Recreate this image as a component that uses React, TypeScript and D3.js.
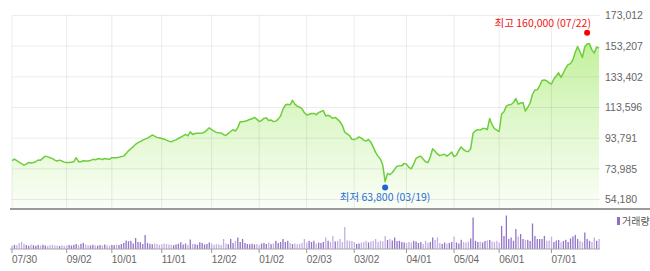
import React from "react";
import * as d3 from "d3";

const tickLabels = ["07/30", "09/02", "10/01", "11/01", "12/02", "01/02", "02/03", "03/02", "04/01", "05/04", "06/01", "07/01"];
const tickIndex = [0, 23, 42, 63, 84, 104, 124, 144, 166, 186, 205, 227];
const yTicks = [54180, 73985, 93791, 113596, 133402, 153207, 173012];

const closes = [
  79300, 80300, 79300, 78300, 77300, 76400, 77000, 78100, 77800, 78100,
  78600, 79700, 79600, 80900, 82200, 81700, 81200, 80600, 79600, 79000,
  79600, 79000, 78300, 78100, 78100, 78300, 78500, 81200, 78600, 78600,
  79200, 79100, 79000, 79300, 80100, 79900, 80300, 80600, 79900, 80700,
  80400, 80100, 81200, 81200, 81100, 81400, 81900, 82200, 83800, 85600,
  87000, 88200, 89800, 90900, 91600, 92500, 93200, 93800, 94800, 95800,
  95100, 94300, 94000, 93600, 93200, 92500, 91900, 91400, 92200, 92700,
  93600, 94400, 95300, 96200, 95300, 97900, 96200, 96800, 96900, 96900,
  97100, 97700, 99000, 100500, 99300, 98400, 97500, 97300, 97200, 96100,
  95500, 96900, 98100, 99300, 98400, 100600, 104400, 104400, 104700, 105200,
  105800, 106300, 107200, 106100, 104500, 105200, 106600, 106900, 105200, 105500,
  104500, 104800, 106100, 108100, 112400, 115200, 115700, 115300, 118200, 115800,
  114500, 113900, 112900, 110300, 108700, 109200, 109700, 109800, 109000, 110300,
  111000, 111600, 108100, 108600, 107800, 106600, 107200, 105900, 104500, 101900,
  97700, 96600, 95500, 93100, 93000, 93500, 94600, 93800, 92500, 91900,
  93000, 91200, 88000, 84600, 82200, 80400, 76400, 65700, 71000, 70200,
  71600, 73600, 75700, 75900, 75900, 77500, 77000, 74900, 74000, 77000,
  80700, 81600, 82200, 80300, 78600, 78000, 81600, 87000, 85400, 83600,
  82500, 83000, 83400, 82200, 83400, 84800, 81900, 82800, 85800, 88100,
  86400, 85400, 85100, 87000, 96900, 98600, 99300, 99000, 100000, 100000,
  99300, 106500, 102600, 100000, 99000, 98100, 109400, 110900, 114500, 115300,
  115500, 116800, 119400, 115800, 116500, 116800, 111300, 113600, 116500, 122000,
  124900, 125000, 127500, 131000, 131400, 130900, 129400, 128800, 132000, 133950,
  136000, 133000, 135900, 139100, 141300, 141900, 144300, 149200, 153000, 149600,
  145900, 152700, 154700, 154700, 150800, 148800, 152700, 151900,
];

const volumes = [
  350, 420, 380, 600, 700, 520, 400, 330, 450, 380,
  320, 410, 360, 430, 350, 300, 380, 420, 360, 340,
  300, 380, 320, 360, 400, 350, 420, 500, 380, 520,
  610, 450, 380, 350, 420, 380, 330, 400, 360, 450,
  380, 340, 420, 380, 450, 400, 500, 600, 850, 780,
  820, 550, 1100, 700, 680, 500, 1400, 600, 520, 480,
  560, 500, 420, 480, 550, 500, 450, 420, 380, 460,
  520, 680, 450, 550, 400, 950, 520, 480, 420, 680,
  600, 450, 500, 650, 550, 420, 480, 450, 400, 1000,
  550, 480, 1000, 600, 820, 1150, 700, 1000, 600, 500,
  480, 520, 450, 500, 420, 550, 600, 500, 650, 480,
  550, 820, 600, 700, 1000, 700, 820, 600, 500, 550,
  480, 520, 600, 1000, 650, 820, 700, 820, 550, 650,
  600, 700, 1150, 820, 700, 1300, 750, 820, 1000, 700,
  2200, 850, 820, 800, 700, 500, 550, 650, 700, 820,
  650, 750, 820, 1000, 700, 820, 750, 1300, 900, 1000,
  850, 1150, 800, 820, 700, 650, 600, 700, 650, 820,
  750, 600, 700, 500, 820, 650, 700, 1150, 900, 1150,
  600, 500, 650, 550, 600, 700, 1250, 650, 550, 920,
  700, 650, 750, 1050, 3150, 820, 700, 720, 650, 800,
  850, 900, 750, 700, 820, 650, 2300, 1300, 3350, 1000,
  1150, 820, 2000, 1250, 1500, 1000, 900, 920, 800, 2550,
  1300, 1000, 1000, 1000, 1300, 820, 850, 1230, 700, 850,
  900, 650, 800, 920, 700, 1050, 1250, 1400, 1000, 820,
  700, 1650, 1000, 820, 700, 1150, 820, 1000,
];

const highLabel = "최고 160,000 (07/22)";
const highValue = 160000;
const highIndex = 242;
const lowLabel = "최저 63,800 (03/19)";
const lowValue = 63800;
const lowIndex = 157;
const volumeLegend = "거래량";

export default function App() {
  const W = 650;
  const H = 271;
  const left = 12;
  const right = 600;
  const plotTop = 15.5;
  const plotBottom = 199.5;
  const axisY = 209;
  const volBase = 249;

  const x = d3.scaleLinear().domain([0, closes.length - 1]).range([left, 599]);
  const y = d3.scaleLinear().domain([yTicks[0], yTicks[yTicks.length - 1]]).range([plotBottom, plotTop]);
  const vy = d3.scaleLinear().domain([0, 3400]).range([volBase, 215]);

  const line = d3.line<number>().x((_, i) => x(i)).y((d) => y(d));
  const area = d3.area<number>().x((_, i) => x(i)).y0(axisY).y1((d) => y(d));
  const fmt = d3.format(",");
  const font = "'Liberation Sans', Arial, sans-serif";
  const kfont = "'Noto Sans CJK KR', 'Liberation Sans', sans-serif";

  return (
    <svg width={W} height={H} style={{ position: "absolute", left: 0, top: 0, background: "#fff" }}>
      <defs>
        <linearGradient id="fillG" gradientUnits="userSpaceOnUse" x1="0" y1={plotTop} x2="0" y2={axisY}>
          <stop offset="0" stopColor="#b9ee8a" />
          <stop offset="0.45" stopColor="#d9f6c2" />
          <stop offset="1" stopColor="#fbfef8" />
        </linearGradient>
      </defs>
      <path d={area(closes) || ""} fill="url(#fillG)" />
      {yTicks.map((t) => (
        <line key={"h" + t} x1={left} x2={right} y1={y(t)} y2={y(t)} stroke="rgba(0,0,0,0.075)" strokeWidth={1} />
      ))}
      {tickIndex.map((ti) => (
        <line key={"v" + ti} x1={x(ti)} x2={x(ti)} y1={plotTop} y2={axisY} stroke="rgba(0,0,0,0.075)" strokeWidth={1} />
      ))}
      <path d={line(closes) || ""} fill="none" stroke="#6ccf3a" strokeWidth={1.5} strokeLinejoin="round" />
      <line x1={10} x2={W} y1={axisY} y2={axisY} stroke="#7a7a7a" strokeWidth={1.5} />
      {yTicks.map((t) => (
        <text key={"yl" + t} x={605} y={y(t)} dy="0.35em" fontSize={10.5} fontFamily={font} fill="#666">
          {fmt(t)}
        </text>
      ))}
      <circle cx={x(highIndex)} cy={y(highValue) - 3} r={3} fill="#f00" />
      <text x={591} y={27} fontSize={10.5} fontFamily={kfont} fill="#f01414" textAnchor="end">
        {highLabel}
      </text>
      <circle cx={x(lowIndex)} cy={y(lowValue) + 3} r={3} fill="#1f63d6" />
      <text x={x(lowIndex)} y={200.5} fontSize={10.5} fontFamily={kfont} fill="#2b6fd0" textAnchor="middle">
        {lowLabel}
      </text>
      {volumes.map((v, i) => (
        <rect
          key={"b" + i}
          x={x(i) - 0.6}
          y={vy(v)}
          width={1.3}
          height={volBase - vy(v)}
          fill={i > 0 && closes[i] >= closes[i - 1] ? "#9273c8" : "#c2b0e2"}
        />
      ))}
      <line x1={10} x2={right} y1={volBase} y2={volBase} stroke="#a8a8a8" strokeWidth={1} />
      {tickIndex.map((ti, k) => (
        <g key={"xt" + ti}>
          <line x1={x(ti)} x2={x(ti)} y1={volBase} y2={volBase + 4} stroke="#999" strokeWidth={1} />
          <text x={x(ti)} y={259.5} dy="0.35em" fontSize={10} fontFamily={font} fill="#666">
            {tickLabels[k]}
          </text>
        </g>
      ))}
      <rect x={617} y={217} width={3} height={8} fill="#8f6ec6" />
      <text x={622} y={221} dy="0.35em" fontSize={10} fontFamily={kfont} fill="#555">
        {volumeLegend}
      </text>
    </svg>
  );
}
